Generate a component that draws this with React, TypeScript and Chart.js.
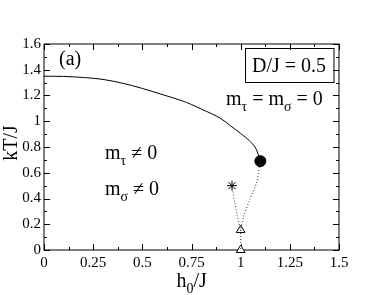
import React, { useEffect, useRef } from "react";
import { Chart, registerables } from "chart.js";

Chart.register(...registerables);

// Critical line (solid)
const curveH = [0, 0.1, 0.2, 0.3, 0.4, 0.5, 0.6, 0.7, 0.75, 0.8, 0.9, 0.95, 1.0, 1.05, 1.08, 1.1];
const curveT = [1.35, 1.348, 1.34, 1.325, 1.295, 1.255, 1.208, 1.16, 1.13, 1.095, 1.02, 0.963, 0.905, 0.84, 0.78, 0.69];

// Dotted line from tricritical point down to lower triangle
const dotAH = [1.1, 1.08, 1.046, 1.015, 1.0];
const dotAT = [0.69, 0.52, 0.39, 0.26, 0.155];

// Dotted line from star to triangle
const dotBH = [0.956, 0.97, 0.985, 1.0];
const dotBT = [0.5, 0.37, 0.25, 0.155];

// Vertical dotted segment
const dotCH = [1.0, 1.0];
const dotCT = [0.155, 0.0];

// Markers
const circleH = [1.1];
const circleT = [0.69];
const starH = [0.956];
const starT = [0.5];
const triH = [1.0, 1.0];
const triT = [0.155, 0.0];

const xTickLabels = ["0", "0.25", "0.5", "0.75", "1", "1.25", "1.5"];
const yTickLabels = ["0", "0.2", "0.4", "0.6", "0.8", "1", "1.2", "1.4", "1.6"];

const SERIF = "'Liberation Serif', 'Times New Roman', serif";

const pts = (xs: number[], ys: number[]) => xs.map((x, i) => ({ x, y: ys[i] }));

function drawParts(
  ctx: CanvasRenderingContext2D,
  x: number,
  y: number,
  parts: [string, boolean][],
  size: number,
  subSize: number,
  subDrop: number
) {
  let cx = x;
  for (const [t, sub] of parts) {
    ctx.font = `${sub ? subSize : size}px ${SERIF}`;
    ctx.fillText(t, cx, sub ? y + subDrop : y);
    cx += ctx.measureText(t).width;
  }
}

const framePlugin = {
  id: "frameTicks",
  beforeDatasetsDraw(chart: any) {
    const { ctx, chartArea: a, scales } = chart;
    const xs = scales.x;
    const ys = scales.y;
    ctx.save();
    ctx.strokeStyle = "#000";
    ctx.lineWidth = 1;
    ctx.strokeRect(a.left, a.top, a.right - a.left, a.bottom - a.top);
    ctx.beginPath();
    for (let i = 0; i <= 12; i++) {
      const v = i * 0.125;
      const len = i % 2 === 0 ? 6 : 3;
      const px = Math.round(xs.getPixelForValue(v)) + 0.5;
      ctx.moveTo(px, a.bottom);
      ctx.lineTo(px, a.bottom - len);
      ctx.moveTo(px, a.top);
      ctx.lineTo(px, a.top + len);
    }
    for (let i = 0; i <= 16; i++) {
      const v = i * 0.1;
      const len = i % 2 === 0 ? 6 : 3;
      const py = Math.round(ys.getPixelForValue(v)) + 0.5;
      ctx.moveTo(a.left, py);
      ctx.lineTo(a.left + len, py);
      ctx.moveTo(a.right, py);
      ctx.lineTo(a.right - len, py);
    }
    ctx.stroke();
    ctx.restore();
  },
  afterDraw(chart: any) {
    const { ctx, chartArea: a } = chart;
    ctx.save();
    ctx.fillStyle = "#000";
    ctx.strokeStyle = "#000";
    ctx.textBaseline = "alphabetic";
    ctx.textAlign = "left";

    // (a)
    ctx.font = `20px ${SERIF}`;
    ctx.fillText("(a)", 59, 65);

    // Box D/J = 0.5
    ctx.lineWidth = 1;
    ctx.strokeRect(245.5, 48.5, 88.5, 34);
    ctx.font = `20px ${SERIF}`;
    ctx.fillText("D/J = 0.5", 252, 72);

    // m_tau = m_sigma = 0
    drawParts(ctx, 226, 105, [["m", false], ["τ", true], [" = m", false], ["σ", true], [" = 0", false]], 20, 14, 6);

    // m_tau != 0
    drawParts(ctx, 105, 159, [["m", false], ["τ", true], [" ≠ 0", false]], 20, 14, 6);
    // m_sigma != 0
    drawParts(ctx, 105, 195, [["m", false], ["σ", true], [" ≠ 0", false]], 20, 14, 6);

    // x-axis title h_0/J
    drawParts(ctx, 176.5, 287, [["h", false], ["0", true], ["/J", false]], 20, 14, 6);

    // y-axis title kT/J
    ctx.translate(17, (a.top + a.bottom) / 2 - 4);
    ctx.rotate(-Math.PI / 2);
    ctx.textAlign = "center";
    ctx.font = `20px ${SERIF}`;
    ctx.fillText("kT/J", 0, 0);
    ctx.restore();
  },
};

export default function App() {
  const ref = useRef<HTMLCanvasElement | null>(null);

  useEffect(() => {
    document.body.style.margin = "0";
    const canvas = ref.current;
    if (!canvas) return;
    const chart = new Chart(canvas, {
      type: "scatter",
      data: {
        datasets: [
          {
            data: pts(curveH, curveT),
            showLine: true,
            borderColor: "#000",
            borderWidth: 1,
            pointRadius: 0,
            cubicInterpolationMode: "monotone",
          },
          {
            data: pts(dotAH, dotAT),
            showLine: true,
            borderColor: "#333",
            borderWidth: 1,
            borderDash: [1, 2],
            pointRadius: 0,
            tension: 0.3,
          },
          {
            data: pts(dotBH, dotBT),
            showLine: true,
            borderColor: "#333",
            borderWidth: 1,
            borderDash: [1, 2],
            pointRadius: 0,
            tension: 0.3,
          },
          {
            data: pts(dotCH, dotCT),
            showLine: true,
            borderColor: "#333",
            borderWidth: 1,
            borderDash: [1, 2],
            pointRadius: 0,
          },
          {
            data: pts(circleH, circleT),
            pointStyle: "circle",
            pointRadius: 5.5,
            backgroundColor: "#000",
            borderColor: "#000",
          },
          {
            data: pts(starH, starT),
            pointStyle: "star",
            pointRadius: 5,
            borderColor: "#000",
            borderWidth: 1,
            backgroundColor: "#000",
          },
          {
            data: pts(triH, triT),
            pointStyle: "triangle",
            pointRadius: 5,
            borderColor: "#000",
            borderWidth: 1,
            backgroundColor: "#fff",
          },
        ] as any,
      },
      options: {
        animation: false,
        responsive: false,
        clip: false as any,
        layout: { padding: { left: 0, top: 44, right: 43, bottom: 0 } },
        plugins: { legend: { display: false }, tooltip: { enabled: false } },
        scales: {
          x: {
            type: "linear",
            min: 0,
            max: 1.5,
            grid: { display: false, drawTicks: false },
            border: { display: false },
            ticks: {
              stepSize: 0.25,
              autoSkip: false,
              maxRotation: 0,
              padding: 4,
              color: "#000",
              font: { family: SERIF, size: 15 },
              callback: (_v: any, i: number) => xTickLabels[i],
            },
            afterFit: (s: any) => {
              s.height = 45;
            },
          },
          y: {
            type: "linear",
            min: 0,
            max: 1.6,
            grid: { display: false, drawTicks: false },
            border: { display: false },
            ticks: {
              stepSize: 0.2,
              autoSkip: false,
              padding: 3,
              color: "#000",
              font: { family: SERIF, size: 15 },
              callback: (_v: any, i: number) => yTickLabels[i],
            },
            afterFit: (s: any) => {
              s.width = 44;
            },
          },
        },
      },
      plugins: [framePlugin],
    });
    return () => chart.destroy();
  }, []);

  return (
    <div style={{ width: 382, height: 295, background: "#fff" }}>
      <canvas ref={ref} width={382} height={295} style={{ display: "block" }} />
    </div>
  );
}
